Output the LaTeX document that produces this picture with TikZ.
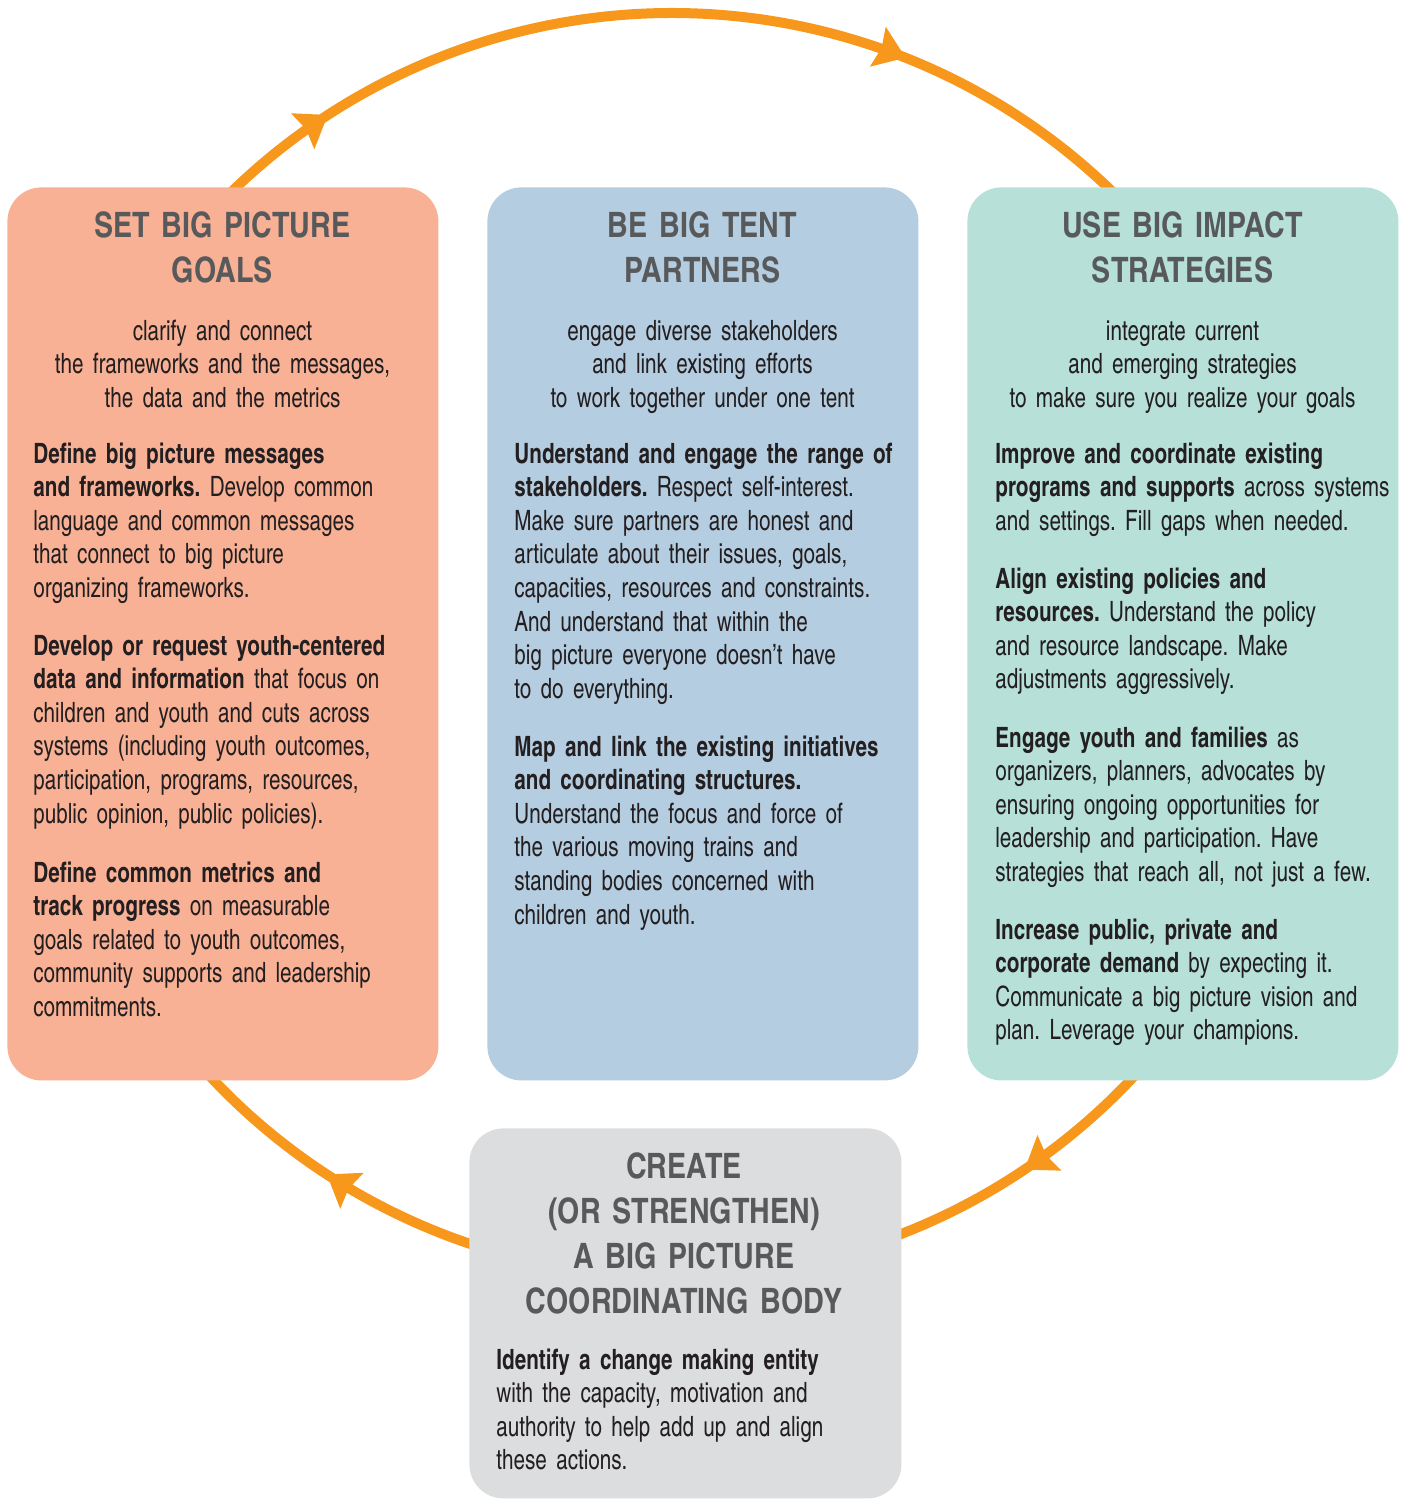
\documentclass[tikz,border=0pt]{standalone}
\usepackage{fontspec}
\setmainfont{texgyreheroscn}[Extension=.otf, UprightFont=*-regular, BoldFont=*-bold, ItalicFont=*-italic, BoldItalicFont=*-bolditalic, FakeStretch=0.9]
\newfontfamily\headfam{texgyreheroscn}[Extension=.otf, UprightFont=*-bold, BoldFont=*-bold]
\usetikzlibrary{arrows.meta,decorations.markings}
\definecolor{salmonbox}{HTML}{F9B196}
\definecolor{tentblue}{HTML}{B5CDE0}
\definecolor{tealbox}{HTML}{B6E0D8}
\definecolor{greybox}{HTML}{DCDDDF}
\definecolor{ringorange}{HTML}{F7981D}
\definecolor{ttlgrey}{HTML}{58595B}
\definecolor{bodyblack}{HTML}{231F20}
\newcommand\bodyfont{\fontsize{14pt}{16.8pt}\selectfont\frenchspacing}
\newcommand\ttlfont{\headfam\fontsize{17.5pt}{22.5pt}\selectfont}
\newcommand\ringtip{\arrow{Stealth[length=15pt,width=21.5pt,inset=2pt,line width=0pt,color=ringorange]}}
\begin{document}
\begin{tikzpicture}[x=0.5pt,y=-0.5pt,
  panel/.style={rounded corners=17pt, inner sep=0pt, anchor=north west, minimum width=215.5pt, minimum height=446.5pt},
  ttl/.style={font=\ttlfont, text=ttlgrey, align=center, text width=210pt, anchor=base, inner sep=0pt},
  sub/.style={font=\bodyfont, text=bodyblack, align=center, text width=210pt, anchor=base, inner sep=0pt},
  para/.style={font=\bodyfont, text=bodyblack, align=left, text width=260pt, anchor=base west, inner sep=0pt},
  ring/.style={draw=ringorange, line width=5pt}]
\useasboundingbox (0,0) rectangle (1405,1499);
\coordinate (O) at (672,645);
% the cycle
\draw[ring, postaction={decorate}, decoration={markings,
   mark=at position 0.17 with {\ringtip}, mark=at position 0.717 with {\ringtip}}]
  (O) ++(-140:632) arc[start angle=-140, end angle=-40, radius=632];
\draw[ring, postaction={decorate}, decoration={markings,
   mark=at position 0.503 with {\ringtip}}]
  (O) ++(40:632) arc[start angle=40, end angle=72, radius=632];
\draw[ring, postaction={decorate}, decoration={markings,
   mark=at position 0.472 with {\ringtip}}]
  (O) ++(108:632) arc[start angle=108, end angle=140, radius=632];
% panels
\node[panel, fill=salmonbox] (goals) at (7,187) {};
\node[panel, fill=tentblue] (tent) at (487,187) {};
\node[panel, fill=tealbox] (impact) at (967,187) {};
\node[panel, fill=greybox, minimum width=216pt, minimum height=185pt] (coord) at (469,1128) {};
% left panel
\node[ttl] (goalsT) at (222.5,237) {SET BIG PICTURE\\GOALS};
\node[sub] (goalsS) at (222.5,340) {clarify and connect\\the frameworks and the messages,\\the data and the metrics};
\node[para] (goalsA) at (33,463) {\textbf{Define big picture messages}\\\textbf{and frameworks.} Develop common\\language and common messages\\that connect to big picture\\organizing frameworks.};
\node[para] (goalsB) at (33,655) {\textbf{Develop or request youth-centered}\\\textbf{data and information} that focus on\\children and youth and cuts across\\systems (including youth outcomes,\\participation, programs, resources,\\public opinion, public policies).};
\node[para] (goalsC) at (33,882) {\textbf{Define common metrics and}\\\textbf{track progress} on measurable\\goals related to youth outcomes,\\community supports and leadership\\commitments.};
% middle panel
\node[ttl] (tentT) at (702.5,237) {BE BIG TENT\\PARTNERS};
\node[sub] (tentS) at (702.5,340) {engage diverse stakeholders\\and link existing efforts\\to work together under one tent};
\node[para] (tentA) at (514,463) {\textbf{Understand and engage the range of}\\\textbf{stakeholders.} Respect self-interest.\\Make sure partners are honest and\\articulate about their issues, goals,\\capacities, resources and constraints.\\And understand that within the\\big picture everyone doesn’t have\\to do everything.};
\node[para] (tentB) at (514,756) {\textbf{Map and link the existing initiatives}\\\textbf{and coordinating structures.}\\Understand the focus and force of\\the various moving trains and\\standing bodies concerned with\\children and youth.};
% right panel
\node[ttl] (impactT) at (1182.5,237) {USE BIG IMPACT\\STRATEGIES};
\node[sub] (impactS) at (1182.5,340) {integrate current\\and emerging strategies\\to make sure you realize your goals};
\node[para] (impactA) at (995,463) {\textbf{Improve and coordinate existing}\\\textbf{programs and supports} across systems\\and settings. Fill gaps when needed.};
\node[para] (impactB) at (995,588) {\textbf{Align existing policies and}\\\textbf{resources.} Understand the policy\\and resource landscape. Make\\adjustments aggressively.};
\node[para] (impactC) at (995,747) {\textbf{Engage youth and families} as\\organizers, planners, advocates by\\ensuring ongoing opportunities for\\leadership and participation. Have\\strategies that reach all, not just a few.};
\node[para] (impactD) at (995,939) {\textbf{Increase public, private and}\\\textbf{corporate demand} by expecting it.\\Communicate a big picture vision and\\plan. Leverage your champions.};
% bottom panel
\node[ttl] (coordT) at (684,1178) {CREATE\\(OR STRENGTHEN)\\A BIG PICTURE\\COORDINATING BODY};
\node[para] (coordA) at (496,1369) {\textbf{Identify a change making entity}\\with the capacity, motivation and\\authority to help add up and align\\these actions.};
\end{tikzpicture}
\end{document}
